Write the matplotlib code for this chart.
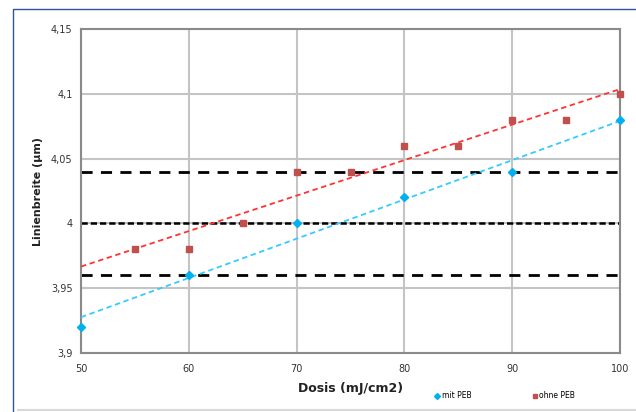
import numpy as np
import matplotlib.pyplot as plt
from matplotlib.ticker import FuncFormatter
from matplotlib.patches import Rectangle

# Messwerte
dosis_mit = [50, 60, 70, 80, 90, 100]
breite_mit = [3.92, 3.96, 4.00, 4.02, 4.04, 4.08]
dosis_ohne = [55, 60, 65, 70, 75, 80, 85, 90, 95, 100]
breite_ohne = [3.98, 3.98, 4.00, 4.04, 4.04, 4.06, 4.06, 4.08, 4.08, 4.10]
grenzen = [3.96, 4.00, 4.04]

fig = plt.figure(figsize=(6.36, 4.12), dpi=100)
ax = fig.add_axes([81/636, 59/412, 539/636, 324/412])

# Rahmen des Diagrammbereichs
fig.patches.append(Rectangle((13/636, -0.01), 1.0, 1 - 9/412 + 0.01, transform=fig.transFigure,
                             fill=False, edgecolor='#2f5597', linewidth=1.0))
fig.lines.append(plt.Line2D([18/636, 1], [2/412, 2/412], transform=fig.transFigure,
                            color='#d9d9d9', linewidth=1.5))

ax.set_xlim(50, 100)
ax.set_ylim(3.9, 4.15)
ax.set_xticks(range(50, 101, 10))
ax.set_yticks([3.9, 3.95, 4.0, 4.05, 4.1, 4.15])
ax.yaxis.set_major_formatter(FuncFormatter(lambda v, p: f"{v:g}".replace('.', ',')))
ax.grid(True, color='#c4c4c4', linewidth=1.5)
ax.set_axisbelow(True)
for s in ax.spines.values():
    s.set_color('#8a8a8a')
    s.set_linewidth(1.5)
ax.tick_params(length=0, labelsize=7, colors='#333333', pad=6)
ax.tick_params(axis='x', pad=8)

# Grenzlinien
ax.hlines(grenzen[0], 50, 100, colors='black', linewidth=2, linestyles=(0, (4, 3)), zorder=2)
ax.hlines(grenzen[1], 50, 100, colors='black', linewidth=1.8, linestyles=(0, (2.5, 1.2)), zorder=2)
ax.hlines(grenzen[2], 50, 100, colors='black', linewidth=2, linestyles=(0, (4, 3)), zorder=2)

# Trendlinien
xs = np.array([50, 100])
k1 = np.polyfit(dosis_mit, breite_mit, 1)
k2 = np.polyfit(dosis_ohne, breite_ohne, 1)
ax.plot(xs, np.polyval(k1, xs), color='#33ccff', linewidth=1.3, linestyle=(0, (3, 2)), zorder=3)
ax.plot(xs, np.polyval(k2, xs), color='#ff3333', linewidth=1.3, linestyle=(0, (3, 2)), zorder=3)

ax.plot(dosis_mit, breite_mit, 'D', color='#00b0f0', markersize=4.3, label='mit PEB',
        zorder=4, clip_on=False)
ax.plot(dosis_ohne, breite_ohne, 's', color='#c0504d', markersize=5, label='ohne PEB',
        zorder=4, clip_on=False)

ax.set_xlabel('Dosis (mJ/cm2)', fontsize=9, fontweight='bold', color='#222222', labelpad=6)
ax.set_ylabel('Linienbreite (µm)', fontsize=8, fontweight='bold', color='#222222', labelpad=6)

fig.legend(loc='center left', bbox_to_anchor=(428/636, 16/412), ncol=2, frameon=False,
           fontsize=5.5, markerscale=0.7, handlelength=0.6, handletextpad=0.3, columnspacing=8)

fig.savefig('out.png', dpi=100)
